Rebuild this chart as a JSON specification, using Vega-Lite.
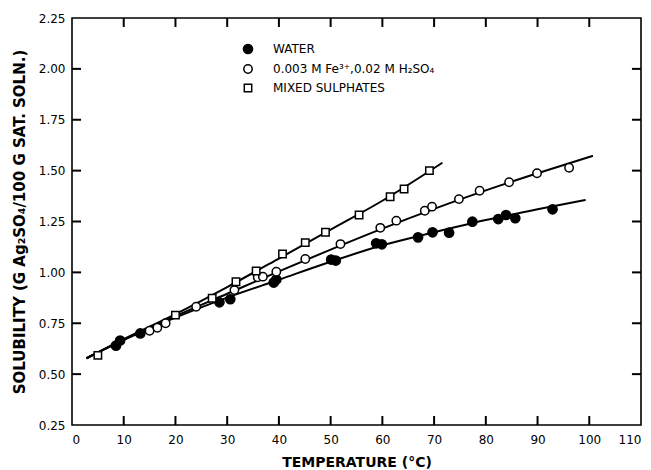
{
  "$schema": "https://vega.github.io/schema/vega-lite/v6.json",
  "width": 569,
  "height": 407,
  "autosize": {"type": "none"},
  "padding": {"left": 72, "top": 18, "right": 10, "bottom": 45},
  "background": "white",
  "config": {
    "view": {"stroke": "black", "strokeWidth": 1.6},
    "font": "DejaVu Sans",
    "axis": {
      "domain": false,
      "grid": false,
      "ticks": false,
      "labelFont": "DejaVu Sans",
      "labelFontSize": 12,
      "labelColor": "black",
      "titleFont": "DejaVu Sans",
      "titleFontSize": 14,
      "titleFontWeight": "bold",
      "titleColor": "black"
    }
  },
  "datasets": {
    "xticks": [{"v": 10}, {"v": 20}, {"v": 30}, {"v": 40}, {"v": 50}, {"v": 60}, {"v": 70}, {"v": 80}, {"v": 90}, {"v": 100}],
    "yticks": [{"v": 0.5}, {"v": 0.75}, {"v": 1.0}, {"v": 1.25}, {"v": 1.5}, {"v": 1.75}, {"v": 2.0}],
    "pts": [
      {"series": "WATER", "t": 8.5, "s": 0.64},
      {"series": "WATER", "t": 9.3, "s": 0.665},
      {"series": "WATER", "t": 13.2, "s": 0.70},
      {"series": "WATER", "t": 28.5, "s": 0.853},
      {"series": "WATER", "t": 30.6, "s": 0.868},
      {"series": "WATER", "t": 39.0, "s": 0.95},
      {"series": "WATER", "t": 39.5, "s": 0.965},
      {"series": "WATER", "t": 50.1, "s": 1.063},
      {"series": "WATER", "t": 51.0, "s": 1.058},
      {"series": "WATER", "t": 58.8, "s": 1.143},
      {"series": "WATER", "t": 59.9, "s": 1.138},
      {"series": "WATER", "t": 66.9, "s": 1.172},
      {"series": "WATER", "t": 69.7, "s": 1.197},
      {"series": "WATER", "t": 72.9, "s": 1.195},
      {"series": "WATER", "t": 77.4, "s": 1.249},
      {"series": "WATER", "t": 82.4, "s": 1.262},
      {"series": "WATER", "t": 83.9, "s": 1.282},
      {"series": "WATER", "t": 85.7, "s": 1.266},
      {"series": "WATER", "t": 92.9, "s": 1.31},
      {"series": "0.003 M Fe³⁺,0.02 M H₂SO₄", "t": 15.0, "s": 0.713},
      {"series": "0.003 M Fe³⁺,0.02 M H₂SO₄", "t": 16.5, "s": 0.728},
      {"series": "0.003 M Fe³⁺,0.02 M H₂SO₄", "t": 18.1, "s": 0.75},
      {"series": "0.003 M Fe³⁺,0.02 M H₂SO₄", "t": 24.0, "s": 0.831},
      {"series": "0.003 M Fe³⁺,0.02 M H₂SO₄", "t": 31.4, "s": 0.913},
      {"series": "0.003 M Fe³⁺,0.02 M H₂SO₄", "t": 35.9, "s": 0.976},
      {"series": "0.003 M Fe³⁺,0.02 M H₂SO₄", "t": 36.9, "s": 0.979},
      {"series": "0.003 M Fe³⁺,0.02 M H₂SO₄", "t": 39.5, "s": 1.003},
      {"series": "0.003 M Fe³⁺,0.02 M H₂SO₄", "t": 45.1, "s": 1.066},
      {"series": "0.003 M Fe³⁺,0.02 M H₂SO₄", "t": 51.9, "s": 1.139},
      {"series": "0.003 M Fe³⁺,0.02 M H₂SO₄", "t": 59.6, "s": 1.219},
      {"series": "0.003 M Fe³⁺,0.02 M H₂SO₄", "t": 62.7, "s": 1.254},
      {"series": "0.003 M Fe³⁺,0.02 M H₂SO₄", "t": 68.2, "s": 1.303},
      {"series": "0.003 M Fe³⁺,0.02 M H₂SO₄", "t": 69.6, "s": 1.323},
      {"series": "0.003 M Fe³⁺,0.02 M H₂SO₄", "t": 74.8, "s": 1.36},
      {"series": "0.003 M Fe³⁺,0.02 M H₂SO₄", "t": 78.8, "s": 1.401},
      {"series": "0.003 M Fe³⁺,0.02 M H₂SO₄", "t": 84.5, "s": 1.443},
      {"series": "0.003 M Fe³⁺,0.02 M H₂SO₄", "t": 89.9, "s": 1.487},
      {"series": "0.003 M Fe³⁺,0.02 M H₂SO₄", "t": 96.1, "s": 1.514},
      {"series": "MIXED SULPHATES", "t": 5.0, "s": 0.592},
      {"series": "MIXED SULPHATES", "t": 20.0, "s": 0.79},
      {"series": "MIXED SULPHATES", "t": 27.1, "s": 0.873},
      {"series": "MIXED SULPHATES", "t": 31.7, "s": 0.954},
      {"series": "MIXED SULPHATES", "t": 35.6, "s": 1.007},
      {"series": "MIXED SULPHATES", "t": 40.7, "s": 1.09},
      {"series": "MIXED SULPHATES", "t": 45.1, "s": 1.146},
      {"series": "MIXED SULPHATES", "t": 49.0, "s": 1.197},
      {"series": "MIXED SULPHATES", "t": 55.5, "s": 1.282},
      {"series": "MIXED SULPHATES", "t": 61.5, "s": 1.372},
      {"series": "MIXED SULPHATES", "t": 64.2, "s": 1.41},
      {"series": "MIXED SULPHATES", "t": 69.1, "s": 1.50}
    ],
    "curves": [
      {"series": "WATER", "t": 2.8, "s": 0.578},
      {"series": "WATER", "t": 10, "s": 0.668},
      {"series": "WATER", "t": 20, "s": 0.778},
      {"series": "WATER", "t": 30, "s": 0.876},
      {"series": "WATER", "t": 40, "s": 0.964},
      {"series": "WATER", "t": 50, "s": 1.052},
      {"series": "WATER", "t": 60, "s": 1.133},
      {"series": "WATER", "t": 70, "s": 1.197},
      {"series": "WATER", "t": 80, "s": 1.257},
      {"series": "WATER", "t": 90, "s": 1.31},
      {"series": "WATER", "t": 99.3, "s": 1.356},
      {"series": "FE", "t": 2.8, "s": 0.578},
      {"series": "FE", "t": 10, "s": 0.668},
      {"series": "FE", "t": 20, "s": 0.785},
      {"series": "FE", "t": 30, "s": 0.895},
      {"series": "FE", "t": 40, "s": 1.005},
      {"series": "FE", "t": 50, "s": 1.112},
      {"series": "FE", "t": 60, "s": 1.215},
      {"series": "FE", "t": 70, "s": 1.312},
      {"series": "FE", "t": 80, "s": 1.403},
      {"series": "FE", "t": 90, "s": 1.487},
      {"series": "FE", "t": 100.7, "s": 1.573},
      {"series": "MIX", "t": 2.8, "s": 0.578},
      {"series": "MIX", "t": 10, "s": 0.672},
      {"series": "MIX", "t": 20, "s": 0.795},
      {"series": "MIX", "t": 30, "s": 0.928},
      {"series": "MIX", "t": 40, "s": 1.068},
      {"series": "MIX", "t": 50, "s": 1.21},
      {"series": "MIX", "t": 60, "s": 1.352},
      {"series": "MIX", "t": 71.6, "s": 1.539}
    ]
  },
  "layer": [
    {
      "data": {"name": "xticks"},
      "mark": {"type": "rule", "color": "black", "strokeWidth": 2},
      "encoding": {
        "x": {"field": "v", "type": "quantitative", "scale": {"domain": [0, 110], "nice": false, "zero": false}, "axis": null},
        "y": {"datum": 0.25, "type": "quantitative", "scale": {"domain": [0.25, 2.25], "nice": false, "zero": false}, "axis": null},
        "y2": {"datum": 0.294}
      }
    },
    {
      "data": {"name": "xticks"},
      "mark": {"type": "rule", "color": "black", "strokeWidth": 2},
      "encoding": {
        "x": {"field": "v", "type": "quantitative", "scale": {"domain": [0, 110], "nice": false, "zero": false}, "axis": null},
        "y": {"datum": 2.25, "type": "quantitative", "scale": {"domain": [0.25, 2.25], "nice": false, "zero": false}, "axis": null},
        "y2": {"datum": 2.206}
      }
    },
    {
      "data": {"name": "yticks"},
      "mark": {"type": "rule", "color": "black", "strokeWidth": 2},
      "encoding": {
        "y": {"field": "v", "type": "quantitative", "scale": {"domain": [0.25, 2.25], "nice": false, "zero": false}, "axis": null},
        "x": {"datum": 0, "type": "quantitative", "scale": {"domain": [0, 110], "nice": false, "zero": false}, "axis": null},
        "x2": {"datum": 1.75}
      }
    },
    {
      "data": {"name": "yticks"},
      "mark": {"type": "rule", "color": "black", "strokeWidth": 2},
      "encoding": {
        "y": {"field": "v", "type": "quantitative", "scale": {"domain": [0.25, 2.25], "nice": false, "zero": false}, "axis": null},
        "x": {"datum": 110, "type": "quantitative", "scale": {"domain": [0, 110], "nice": false, "zero": false}, "axis": null},
        "x2": {"datum": 108.25}
      }
    },
    {
      "data": {"name": "curves"},
      "mark": {"type": "line", "color": "black", "strokeWidth": 2, "interpolate": "monotone"},
      "encoding": {
        "x": {"field": "t", "type": "quantitative", "scale": {"domain": [0, 110], "nice": false, "zero": false}, "axis": null},
        "y": {"field": "s", "type": "quantitative", "scale": {"domain": [0.25, 2.25], "nice": false, "zero": false}, "axis": null},
        "detail": {"field": "series"}
      }
    },
    {
      "data": {"name": "pts"},
      "mark": {"type": "point", "filled": false, "strokeWidth": 1.5, "stroke": "black", "opacity": 1},
      "encoding": {
        "x": {"field": "t", "type": "quantitative", "scale": {"domain": [0, 110], "nice": false, "zero": false},
              "axis": {"orient": "bottom", "title": "TEMPERATURE (°C)", "values": [0,10,20,30,40,50,60,70,80,90,100,110], "format": "d", "labelPadding": 9, "titlePadding": 10}},
        "y": {"field": "s", "type": "quantitative", "scale": {"domain": [0.25, 2.25], "nice": false, "zero": false},
              "axis": {"orient": "left", "title": "SOLUBILITY (G Ag₂SO₄/100 G SAT. SOLN.)", "values": [0.25,0.5,0.75,1,1.25,1.5,1.75,2,2.25], "format": ".2f", "labelPadding": 7, "titlePadding": 11, "titleFontSize": 15}},
        "shape": {"field": "series", "type": "nominal",
                  "scale": {"domain": ["WATER", "0.003 M Fe³⁺,0.02 M H₂SO₄", "MIXED SULPHATES"], "range": ["circle", "circle", "square"]},
                  "legend": {"orient": "none", "legendX": 170, "legendY": 25, "title": null, "labelFontSize": 12, "labelFont": "DejaVu Sans", "labelColor": "black", "labelOffset": 19, "labelLimit": 0, "rowPadding": 4, "padding": 0, "symbolStrokeColor": "black", "symbolStrokeWidth": 1.5}},
        "fill": {"field": "series", "type": "nominal",
                 "scale": {"domain": ["WATER", "0.003 M Fe³⁺,0.02 M H₂SO₄", "MIXED SULPHATES"], "range": ["black", "white", "white"]}},
        "size": {"field": "series", "type": "nominal",
                 "scale": {"domain": ["WATER", "0.003 M Fe³⁺,0.02 M H₂SO₄", "MIXED SULPHATES"], "range": [85, 55, 60]}}
      }
    }
  ],
  "resolve": {"axis": {"x": "independent", "y": "independent"}}
}
